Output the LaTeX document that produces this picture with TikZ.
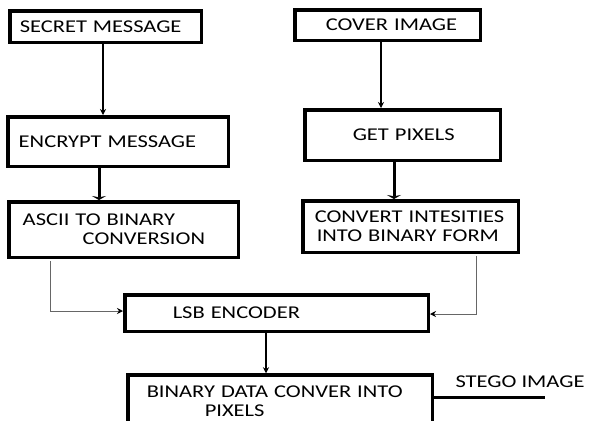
\documentclass[tikz,border=0pt]{standalone}
\usepackage{fontspec}
\setmainfont{Carlito}[FakeStretch=1.25]
\usepackage{tikz}
\usetikzlibrary{calc,arrows.meta,positioning}

\begin{document}
\begin{tikzpicture} [x=1pt, y=-1pt,
       black, text=black,
	   every node/.style={font=\fontsize{18}{19}\selectfont},
	   procbox/.style 2 args = {draw, line width=3.5pt, inner xsep=0pt, inner ysep=0pt,
	                            text width=#1, minimum height=#2, align=left},
	   flow/.style = {line width=1.2pt, -{Stealth[length=6pt,width=6pt]}},
	   sideflow/.style = {line width=1pt, black!60, -{Stealth[length=6pt,width=6pt,black]}},
	   thickflow/.style = {line width=3pt, -{Stealth[length=4pt,width=14pt]}}]

	\useasboundingbox[fill=white] (0,0) rectangle (590,421);

	%% Left column: message side
	\node [procbox={191.5pt}{31.5pt}] (secret) at (105.5,26.5) {\hspace*{10pt}SECRET MESSAGE};
	\node [procbox={220.5pt}{49.5pt}] (encrypt) at (118,141.5) {\hspace*{11pt}ENCRYPT MESSAGE};
	\node [procbox={229.5pt}{55.5pt}] (ascii) at (123.5,229.5)
	      {\hspace*{14pt}ASCII TO BINARY\\\hspace*{74pt}CONVERSION};

	%% Right column: image side
	\node [procbox={185.5pt}{30.5pt}] (cover) at (387.5,25) {\hspace*{31pt}COVER IMAGE};
	\node [procbox={195.5pt}{50.5pt}] (getpix) at (402.5,135) {\hspace*{48pt}GET PIXELS};
	\node [procbox={215.5pt}{51.5pt}] (convert) at (410.5,226.5)
	      {\hspace*{12pt}CONVERT INTESITIES\\\hspace*{14pt}INTO BINARY FORM};

	%% Encoder and output
	\node [procbox={303.5pt}{36.5pt}] (lsb) at (276.5,313) {\hspace*{48pt}\raisebox{-5pt}{LSB ENCODER}};
	\node [procbox={304.5pt}{52pt}] (binary) at (280,401)
	      {\hspace*{19pt}BINARY DATA CONVER INTO\\\hspace*{77pt}PIXELS};
	\node (stegolabel) at (520,382) {STEGO IMAGE};

	%% Connectors
	\coordinate (asciitap) at (50,261);
	\coordinate (convtap) at (476,256);
	\coordinate (stegoend) at (545,397.5);

	\draw[flow] ([xshift=-2.5pt]secret.south) -- ([xshift=-2.5pt]secret.south |- encrypt.north);
	\draw[thickflow] ([xshift=-19pt]encrypt.south) -- ([xshift=-19pt]encrypt.south |- ascii.north);
	\draw[flow] ([xshift=-6.5pt]cover.south) -- ([xshift=-6.5pt]cover.south |- getpix.north);
	\draw[thickflow] ([xshift=-8.5pt]getpix.south) -- ([xshift=-8.5pt]getpix.south |- convert.north);
	\draw[sideflow] (asciitap) |- ([yshift=2pt]lsb.west);
	\draw[sideflow] (convtap) |- ([yshift=-1pt]lsb.east);
	\draw[flow] ([xshift=-10.5pt]lsb.south) -- ([xshift=-10.5pt]lsb.south |- binary.north);
	\draw[line width=3.5pt] (binary.east |- stegoend) -- (stegoend);
\end{tikzpicture}
\end{document}
